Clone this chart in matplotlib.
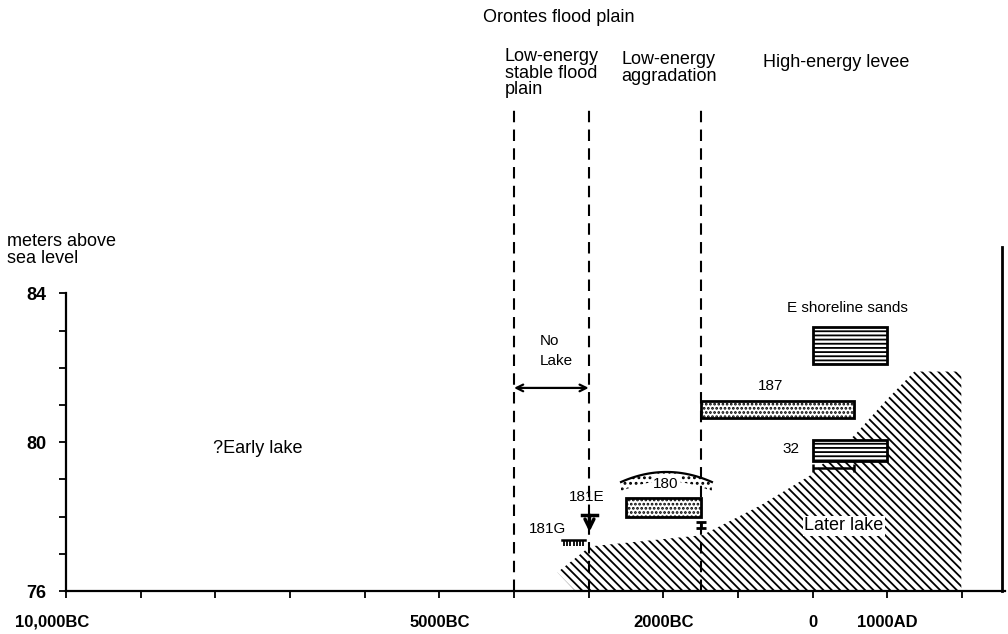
import numpy as np
import matplotlib.pyplot as plt
from matplotlib.patches import Rectangle, Polygon
from matplotlib.transforms import ScaledTranslation

plt.rcParams['font.family'] = ['Liberation Sans', 'DejaVu Sans']
plt.rcParams['hatch.linewidth'] = 1.3

# years: BC negative, AD positive; heights in metres above sea level
x_ticks = list(range(-10000, 2001, 1000))
x_labels = {-10000: '10,000BC', -5000: '5000BC', -2000: '2000BC', 0: '0', 1000: '1000AD'}
y_ticks = list(range(76, 85))
y_labels = {76: '76', 80: '80', 84: '84'}

# flood plain zone boundaries (dashed)
zone_bounds = [-4000, -3000, -1500]
zone_top = 88.98

# dated samples (boxes)
sample_names = ['E shoreline sands', '187', '32', '180']
sample_x0 = [0, -1500, 0, -2500]
sample_x1 = [1000, 550, 1000, -1500]
sample_y0 = [82.1, 80.65, 79.5, 78.0]
sample_y1 = [83.1, 81.1, 80.05, 78.5]
sample_fill = ['----', '....', '----', '....']
label_x = [460, -560, -290, -1965]
label_y = [83.6, 81.5, 79.82, 78.88]

# later lake outline
lake_x = [-3420, -2980, -1480, -700, -40, 566, 970, 1360, 1990, 1990, -3180]
lake_y = [76.5, 77.2, 77.5, 78.3, 79.1, 80.2, 81.1, 81.9, 81.9, 76.0, 76.0]

# dome over sample 180
dome_x = (-2567, -1350)
dome_base, dome_peak = 78.93, 79.2

# range bar under sample 32
range32 = (0, 550, 79.3)
# 181E arrow, 181G marker, 180 bar
e181 = (-2990, 78.04, 77.59)
g181 = (-3357, -3050, 77.37, 77.21)
bar180 = (-1500, 77.69, 77.85)

right_frame_x, right_frame_top = 2535, 85.25

fig = plt.figure(figsize=(10.08, 6.34), dpi=100)
ax = fig.add_axes([66 / 1008, 43 / 634, 939 / 1008, 591 / 634])
ax.set_xlim(-10000, 2575)
ax.set_ylim(76, 91.89)

for s in ['top', 'right']:
    ax.spines[s].set_visible(False)
ax.spines['left'].set_bounds(76, 84)
ax.spines['left'].set_linewidth(1.6)
ax.spines['bottom'].set_linewidth(1.6)

ax.set_xticks(x_ticks)
ax.set_xticklabels([x_labels.get(t, '') for t in x_ticks], fontsize=12, fontweight='bold')
ax.set_yticks(y_ticks)
ax.set_yticklabels([y_labels.get(t, '') for t in y_ticks], fontsize=13, fontweight='bold')
ax.tick_params(axis='x', direction='out', length=5, width=1.3, pad=12)
ax.tick_params(axis='y', direction='out', length=5, width=1.3, pad=9)
lab = ax.get_xticklabels()[0]
lab.set_transform(lab.get_transform() + ScaledTranslation(-0.14, 0, fig.dpi_scale_trans))

ax.plot([right_frame_x, right_frame_x], [76, right_frame_top], color='black', lw=2, clip_on=False)

# dashed zone lines
for xb in zone_bounds:
    ax.plot([xb, xb], [76, zone_top], color='black', lw=1.5, dashes=(5.5, 3.5), zorder=2)

# later lake
ax.add_patch(Polygon(list(zip(lake_x, lake_y)), closed=True, facecolor='none',
                     edgecolor='black', lw=0, hatch='\\\\\\\\', zorder=1))
ax.text(419, 77.75, 'Later lake', fontsize=13, ha='center', va='center', zorder=4,
        bbox=dict(facecolor='white', edgecolor='none', pad=1))

# sample boxes
for name, x0, x1, y0, y1, h in zip(sample_names, sample_x0, sample_x1, sample_y0,
                                   sample_y1, sample_fill):
    ax.add_patch(Rectangle((x0, y0), x1 - x0, y1 - y0, facecolor='white', edgecolor='black',
                           lw=2, hatch=h, zorder=3))

# dome above 180
xs = np.linspace(dome_x[0], dome_x[1], 80)
mid = (dome_x[0] + dome_x[1]) / 2
half = (dome_x[1] - dome_x[0]) / 2
arc = dome_base + (dome_peak - dome_base) * (1 - ((xs - mid) / half) ** 2)
ax.fill_between(xs, arc - 0.25, arc, facecolor='none', edgecolor='black', lw=0, hatch='...', zorder=2)
ax.plot(xs, arc, color='black', lw=1.6, zorder=3)

for name, lx, ly in zip(sample_names, label_x, label_y):
    ax.text(lx, ly, name, fontsize=11, ha='center', va='center', zorder=4,
            bbox=dict(facecolor='white', edgecolor='none', pad=1))

# range bar under 32
ax.errorbar((range32[0] + range32[1]) / 2, range32[2], xerr=(range32[1] - range32[0]) / 2,
            color='black', capsize=3, elinewidth=1.8, capthick=1.8, zorder=4)

# 181E arrow
ax.plot([e181[0] - 105, e181[0] + 105], [e181[1], e181[1]], color='black', lw=2.5, zorder=4)
ax.annotate('', xy=(e181[0], e181[2]), xytext=(e181[0], e181[1]),
            arrowprops=dict(arrowstyle='->', lw=2.5, color='black', shrinkA=0, shrinkB=0,
                            mutation_scale=16), zorder=4)
ax.text(-3023, 78.53, '181E', fontsize=11, ha='center', va='center')

# 181G marker
ax.plot([g181[0], g181[1]], [g181[2], g181[2]], color='black', lw=1.8, zorder=4)
ax.vlines(np.linspace(g181[0] + 20, g181[1] - 20, 7), g181[3], g181[2], color='black', lw=1.3, zorder=4)
ax.text(-3558, 77.67, '181G', fontsize=11, ha='center', va='center')

# bar at 1500BC
ax.errorbar(bar180[0], (bar180[1] + bar180[2]) / 2, yerr=(bar180[2] - bar180[1]) / 2,
            color='black', capsize=3.5, elinewidth=2, capthick=2, zorder=4)

# no lake arrow
ax.annotate('', xy=(-3000, 81.46), xytext=(-4000, 81.46),
            arrowprops=dict(arrowstyle='<->', lw=1.6, color='black', shrinkA=0, shrinkB=0,
                            mutation_scale=12))
ax.text(-3652, 82.45, 'No\nLake', fontsize=11, ha='left', va='center', linespacing=1.5)

# headers and other labels
ax.text(-4415, 91.43, 'Orontes flood plain', fontsize=13, ha='left', va='center')
ax.text(-4121, 89.92, 'Low-energy\nstable flood\nplain', fontsize=13, ha='left', va='center',
        linespacing=0.95)
ax.text(-2567, 90.06, 'Low-energy\naggradation', fontsize=13, ha='left', va='center',
        linespacing=0.95)
ax.text(-665, 90.22, 'High-energy levee', fontsize=13, ha='left', va='center')
ax.text(-10790, 85.17, 'meters above\nsea level', fontsize=13, ha='left', va='center',
        linespacing=0.95)
ax.text(-8031, 79.82, '?Early lake', fontsize=13, ha='left', va='center')

fig.savefig('out.png', dpi=100)
